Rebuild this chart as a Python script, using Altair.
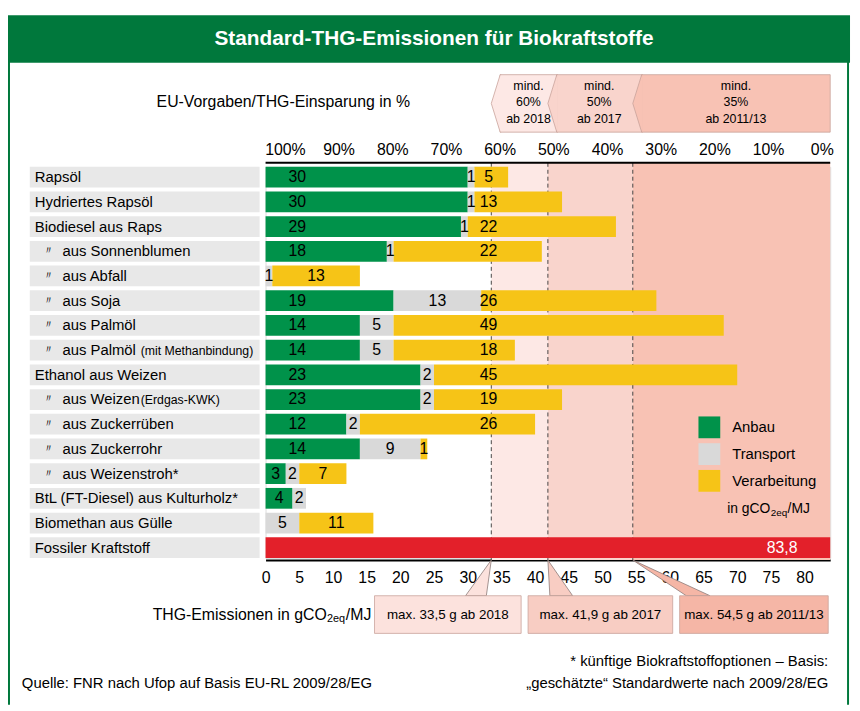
import altair as alt
import pandas as pd

# ---------------- data ----------------
categories = [
    "Rapsöl", "Hydriertes Rapsöl", "Biodiesel aus Raps", "aus Sonnenblumen",
    "aus Abfall", "aus Soja", "aus Palmöl", "aus Palmöl (mit Methanbindung)",
    "Ethanol aus Weizen", "aus Weizen (Erdgas-KWK)", "aus Zuckerrüben",
    "aus Zuckerrohr", "aus Weizenstroh*", "BtL (FT-Diesel) aus Kulturholz*",
    "Biomethan aus Gülle", "Fossiler Kraftstoff",
]
label_main = [
    "Rapsöl", "Hydriertes Rapsöl", "Biodiesel aus Raps", "aus Sonnenblumen",
    "aus Abfall", "aus Soja", "aus Palmöl", "aus Palmöl",
    "Ethanol aus Weizen", "aus Weizen", "aus Zuckerrüben",
    "aus Zuckerrohr", "aus Weizenstroh*", "BtL (FT-Diesel) aus Kulturholz*",
    "Biomethan aus Gülle", "Fossiler Kraftstoff",
]
label_note = ["", "", "", "", "", "", "", "(mit Methanbindung)", "", "(Erdgas-KWK)",
              "", "", "", "", "", ""]
is_sub = [0, 0, 0, 1, 1, 1, 1, 1, 0, 1, 1, 1, 1, 0, 0, 0]

components = ["Anbau", "Transport", "Verarbeitung"]
anbau = [30, 30, 29, 18, 0, 19, 14, 14, 23, 23, 12, 14, 3, 4, 0]
transport = [1, 1, 1, 1, 1, 13, 5, 5, 2, 2, 2, 9, 2, 2, 5]
verarbeitung = [5, 13, 22, 22, 13, 26, 49, 18, 45, 19, 26, 1, 7, 0, 11]
fossil_value = 83.8
fossil_label = "83,8"

thresholds = [33.5, 41.9, 54.5]
min_saving_text = ["mind.\n60%\nab 2018", "mind.\n50%\nab 2017", "mind.\n35%\nab 2011/13"]
max_text = ["max. 33,5 g ab 2018", "max. 41,9 g ab 2017", "max. 54,5 g ab 2011/13"]
pct_ticks = [100, 90, 80, 70, 60, 50, 40, 30, 20, 10, 0]
em_ticks = [0, 5, 10, 15, 20, 25, 30, 35, 40, 45, 50, 55, 60, 65, 70, 75, 80]

# ---------------- styles / layout ----------------
FONT = "Liberation Sans, Arial, sans-serif"
GREEN_BAR = "#00924a"
GREY = "#d9d9d9"
YELLOW = "#f6c417"
RED = "#e3202a"
HEADER_GREEN = "#00783c"
LABEL_BG = "#e8e8e8"
EDGE = "#c9a39b"
zone_colors = ["#fde8e5", "#f9d4cc", "#f8c2b4"]
callout_colors = ["#fce2dd", "#f8cdc3", "#f5b6a6"]
W, H = 570, 395
AX_TOP, AX_BOT = -4, 397
BOX_TOP, BOX_BOT = 433, 471
callout_px = [(110, 258), (265, 411), (418, 568)]
wedge_paths = ["M 0 0 L -26 36 L -5 36 Z", "M 0 0 L 2 36 L 25 36 Z", "M 0 0 L 54 36 L 78 36 Z"]
CHEVRON = "M 10 -29 L 9 -29 L 0 0 L 9 29 L 10 29"
px_unit = fossil_value / W
PCT_FIRST, PCT_LAST = 20 * px_unit, 562 * px_unit   # spread of the % labels

X = alt.Scale(domain=[0, fossil_value], nice=False, zero=False)
Y = alt.Scale(domain=categories, paddingInner=0.16, paddingOuter=0)
AXIS = alt.Axis(values=em_ticks, title=None, grid=False, ticks=False, domain=True,
                domainColor="black", domainWidth=2, labelFont=FONT, labelFontSize=16,
                labelColor="black", labelPadding=10, offset=2, labelFlush=False,
                orient="bottom")


def xf(field):
    return alt.X(field, scale=X, axis=AXIS)


def yf():
    return alt.Y("cat:N", scale=Y, axis=None)


def label_x(comp, s, e):
    c = (s + e) / 2
    if comp == "Anbau":
        return min(c, 4.7)
    if comp == "Verarbeitung" and s < 33.1 < e:
        return 33.1
    return c


rows = []
for i, cat in enumerate(categories[:-1]):
    s = 0.0
    for comp, vals in zip(components, [anbau, transport, verarbeitung]):
        v = vals[i]
        if v > 0:
            e = s + v
            rows.append(dict(cat=cat, comp=comp, start=s, end=e, label=str(v),
                             lx=label_x(comp, s, e)))
            s = e
seg = pd.DataFrame(rows)
fossil_df = pd.DataFrame(dict(cat=[categories[-1]], start=[0.0], end=[fossil_value],
                              label=[fossil_label]))
labels_df = pd.DataFrame(dict(cat=categories, main=label_main, note=label_note, sub=is_sub))
pct_df = pd.DataFrame(dict(p=pct_ticks))
pct_df["x"] = PCT_FIRST + (100 - pct_df["p"]) / 100 * (PCT_LAST - PCT_FIRST)
pct_df["lab"] = pct_df["p"].astype(str) + "%"

nxt = thresholds[1:] + [fossil_value]
zones_df = pd.DataFrame(dict(lo=thresholds, hi=nxt, fill=zone_colors))
hb = pd.DataFrame(dict(thr=thresholds, text=min_saving_text, fill=zone_colors))
hb["x0"] = [t + 9 * px_unit for t in thresholds]
hb["x1"] = [t + 9 * px_unit for t in thresholds[1:]] + [fossil_value]
hb["xc"] = (hb["x0"] + hb["x1"]) / 2
cb = pd.DataFrame(dict(thr=thresholds, text=max_text, fill=callout_colors, path=wedge_paths))
cb["x0"] = [a * px_unit for a, b in callout_px]
cb["x1"] = [b * px_unit for a, b in callout_px]
cb["xc"] = (cb["x0"] + cb["x1"]) / 2
one = pd.DataFrame({"a": [0]})


def txt(text, x, y, size=15, align="left", color="black", weight="normal"):
    return alt.Chart(one).mark_text(font=FONT, fontSize=size, align=align, color=color,
                                    fontWeight=weight, baseline="middle").encode(
        x=alt.value(x), y=alt.value(y), text=alt.value(text))


# ---------------- layers ----------------
zones = alt.Chart(zones_df).mark_rect().encode(
    x=xf("lo:Q"), x2="hi:Q", y=alt.value(AX_TOP), y2=alt.value(AX_BOT),
    fill=alt.Fill("fill:N", scale=None))
dashes = alt.Chart(zones_df).mark_rule(strokeDash=[4, 3], color="#333333", strokeWidth=0.9).encode(
    x=xf("lo:Q"), y=alt.value(AX_TOP), y2=alt.value(AX_BOT))
top_line = alt.Chart(fossil_df).mark_rule(color="black", strokeWidth=2).encode(
    x=xf("start:Q"), x2="end:Q", y=alt.value(AX_TOP))
pct_labels = alt.Chart(pct_df).mark_text(font=FONT, fontSize=16, color="black",
                                         baseline="middle").encode(
    x=xf("x:Q"), y=alt.value(-17), text="lab:N")

label_bg = alt.Chart(labels_df).mark_rect(color=LABEL_BG).encode(
    x=alt.value(-238), x2=alt.value(-6), y=yf())
lab_top = alt.Chart(labels_df).transform_filter("datum.sub == 0").mark_text(
    font=FONT, fontSize=15, align="left", baseline="middle", color="black").encode(
    x=alt.value(-233), y=yf(), text="main:N")
lab_sub = alt.Chart(labels_df).transform_filter("datum.sub == 1").mark_text(
    font=FONT, fontSize=15, align="left", baseline="middle", color="black").encode(
    x=alt.value(-205), y=yf(), text="main:N")
ditto = alt.Chart(labels_df).transform_filter("datum.sub == 1").mark_text(
    font=FONT, fontSize=11, align="left", baseline="middle", color="black").encode(
    x=alt.value(-225), y=yf(), text=alt.value("〃"))
notes = alt.Chart(labels_df).transform_filter("datum.note != ''").mark_text(
    font=FONT, fontSize=12.4, align="left", baseline="middle", color="black", dy=1).encode(
    x=alt.value(-126), y=yf(), text="note:N")

bars = alt.Chart(seg).mark_bar().encode(
    x=xf("start:Q"), x2="end:Q", y=yf(),
    color=alt.Color("comp:N", scale=alt.Scale(domain=components, range=[GREEN_BAR, GREY, YELLOW]),
                    legend=alt.Legend(orient="none", legendX=437, legendY=252, title=None,
                                      symbolType="square", symbolSize=484, symbolStrokeWidth=0,
                                      labelFont=FONT, labelFontSize=15, labelColor="black",
                                      labelOffset=12, rowPadding=5, padding=0,
                                      symbolOpacity=1)))
fossil_bar = alt.Chart(fossil_df).mark_bar(color=RED).encode(x=xf("start:Q"), x2="end:Q", y=yf())
bar_text = alt.Chart(seg).mark_text(font=FONT, fontSize=16, color="black", baseline="middle").encode(
    x=xf("lx:Q"), y=yf(), text="label:N")
fossil_text = alt.Chart(fossil_df).mark_text(font=FONT, fontSize=16, color="white", align="right",
                                             dx=-33, baseline="middle").encode(
    x=xf("end:Q"), y=yf(), text="label:N")

# header
band = alt.Chart(one).mark_rect(color=HEADER_GREEN).encode(
    x=alt.value(-260), x2=alt.value(590), y=alt.value(-153), y2=alt.value(-105))
title = txt("Standard-THG-Emissionen für Biokraftstoffe", 170, -129, size=21, align="center",
            color="white", weight="bold")
eu_text = txt("EU-Vorgaben/THG-Einsparung in %", -110, -65, size=16)
hboxes = alt.Chart(hb).mark_rect(stroke=EDGE, strokeWidth=0.8).encode(
    x=xf("x0:Q"), x2="x1:Q", y=alt.value(-93), y2=alt.value(-35), fill=alt.Fill("fill:N", scale=None))
chevrons = alt.Chart(hb).mark_point(shape=CHEVRON, size=4, filled=True, opacity=1,
                                    stroke=EDGE, strokeWidth=0.8).encode(
    x=xf("thr:Q"), y=alt.value(-64), fill=alt.Fill("fill:N", scale=None))
htext = alt.Chart(hb).mark_text(font=FONT, fontSize=12.5, lineBreak="\n", lineHeight=17,
                                align="center", baseline="middle", color="black").encode(
    x=xf("xc:Q"), y=alt.value(-82), text="text:N")

# bottom callouts
wedges = alt.Chart(cb).mark_point(size=4, filled=True, opacity=1, stroke="#8c7b78",
                                  strokeWidth=0.8).encode(
    x=xf("thr:Q"), y=alt.value(AX_BOT), shape=alt.Shape("path:N", scale=None),
    fill=alt.Fill("fill:N", scale=None))
cboxes = alt.Chart(cb).mark_rect(stroke=EDGE, strokeWidth=0.8).encode(
    x=xf("x0:Q"), x2="x1:Q", y=alt.value(BOX_TOP), y2=alt.value(BOX_BOT),
    fill=alt.Fill("fill:N", scale=None))
ctext = alt.Chart(cb).mark_text(font=FONT, fontSize=13.5, align="center", baseline="middle",
                                color="black").encode(
    x=xf("xc:Q"), y=alt.value(452), text="text:N")
unit1 = txt("THG-Emissionen in gCO", -114, 452, size=16)
unit2 = txt("2eq", 62, 457, size=11)
unit3 = txt("/MJ", 81, 452, size=16)

# legend unit line
lu1 = txt("in gCO", 466, 345, size=14)
lu2 = txt("2eq", 510, 349, size=10)
lu3 = txt("/MJ", 527, 345, size=14)

# footer
foot1 = txt("Quelle: FNR nach Ufop auf Basis EU-RL 2009/28/EG", -246, 521, size=15)
foot2 = txt("* künftige Biokraftstoffoptionen – Basis:", 568, 499, size=15, align="right")
foot3 = txt("„geschätzte“ Standardwerte nach 2009/28/EG", 568, 521, size=15, align="right")

frame_l = alt.Chart(one).mark_rule(color=HEADER_GREEN, strokeWidth=2).encode(
    x=alt.value(-259), y=alt.value(-106), y2=alt.value(543))
frame_r = alt.Chart(one).mark_rule(color=HEADER_GREEN, strokeWidth=2).encode(
    x=alt.value(588), y=alt.value(-106), y2=alt.value(543))

chart = alt.layer(
    zones, dashes, top_line, pct_labels, label_bg, lab_top, lab_sub, ditto, notes,
    bars, fossil_bar, bar_text, fossil_text,
    band, title, eu_text, hboxes, chevrons, htext,
    wedges, cboxes, ctext, unit1, unit2, unit3, lu1, lu2, lu3,
    foot1, foot2, foot3, frame_l, frame_r,
).properties(
    width=W, height=H,
    padding={"left": 260, "top": 157, "right": 22, "bottom": 148},
    autosize=alt.AutoSizeParams(type="none"),
).configure_view(stroke=None).configure(background="white")

chart.save("out.html", embed_options={"renderer": "svg", "actions": False})
